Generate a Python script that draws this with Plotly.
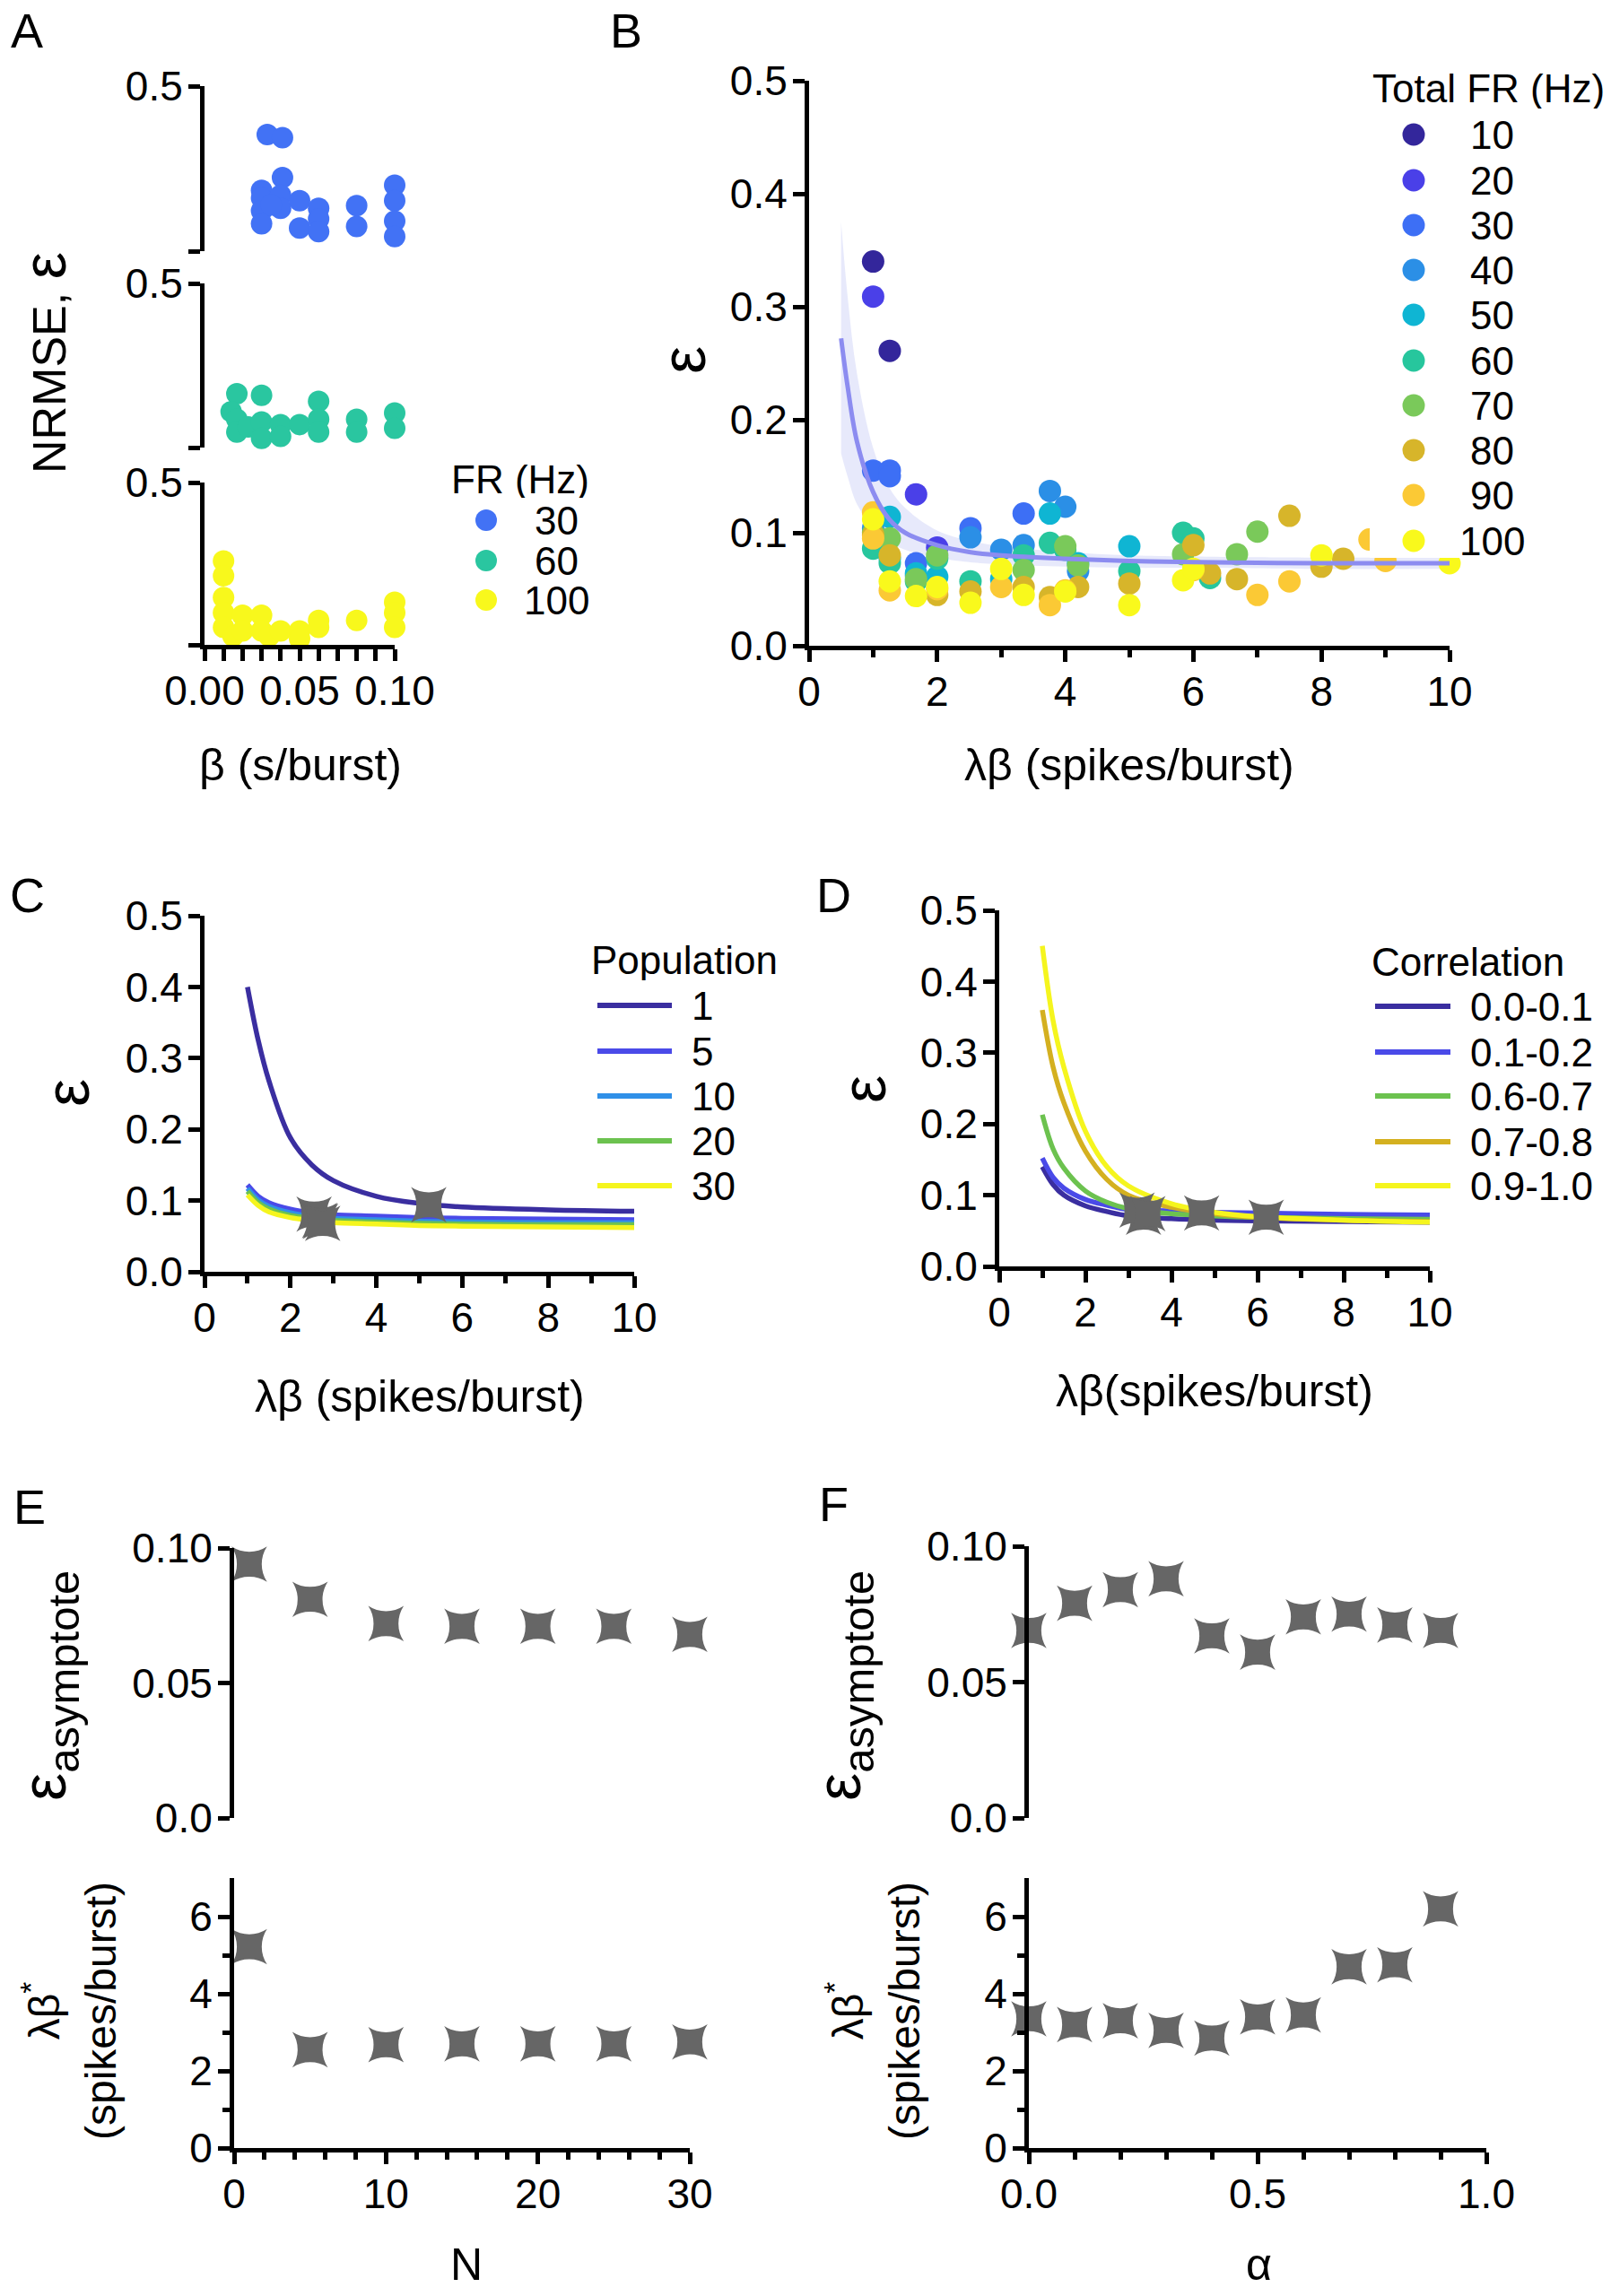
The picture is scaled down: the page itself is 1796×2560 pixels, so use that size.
import plotly.graph_objects as go

W, H = 1796, 2560
FONT = "Liberation Sans, Arial, Helvetica, sans-serif"


def fx(p):
    return p / W


def fy(p):
    return 1 - p / H


# ---------------- data ----------------
# Panel A: NRMSE vs beta, per firing rate
a30_x = [0.033, 0.041, 0.041, 0.030, 0.030, 0.030, 0.030, 0.040, 0.040, 0.035, 0.050, 0.050,
         0.060, 0.060, 0.060, 0.080, 0.080, 0.100, 0.100, 0.100, 0.100]
a30_y = [0.353, 0.344, 0.223, 0.184, 0.161, 0.122, 0.083, 0.169, 0.130, 0.140, 0.153, 0.070,
         0.130, 0.098, 0.059, 0.138, 0.075, 0.200, 0.153, 0.091, 0.044]
a60_x = [0.017, 0.014, 0.017, 0.017, 0.023, 0.030, 0.030, 0.030, 0.040, 0.040, 0.050,
         0.060, 0.060, 0.060, 0.080, 0.080, 0.100, 0.100]
a60_y = [0.164, 0.109, 0.086, 0.047, 0.063, 0.159, 0.078, 0.028, 0.070, 0.034, 0.070,
         0.141, 0.086, 0.047, 0.086, 0.047, 0.105, 0.059]
a100_x = [0.010, 0.010, 0.010, 0.010, 0.010, 0.015, 0.020, 0.020, 0.030, 0.030, 0.034,
          0.040, 0.050, 0.050, 0.060, 0.060, 0.080, 0.100, 0.100, 0.100]
a100_y = [0.258, 0.213, 0.146, 0.099, 0.054, 0.027, 0.091, 0.043, 0.091, 0.043, 0.027,
          0.043, 0.043, 0.019, 0.075, 0.054, 0.075, 0.131, 0.099, 0.054]
a_labels = ["30", "60", "100"]

# Panel B: epsilon vs lambda*beta, per total FR
b_labels = ["10", "20", "30", "40", "50", "60", "70", "80", "90", "100"]
b10_x = [1.0, 1.26]
b10_y = [0.340, 0.261]
b20_x = [1.0, 1.67, 2.0]
b20_y = [0.309, 0.134, 0.087]
b30_x = [1.0, 1.26, 1.26, 2.52, 3.35, 1.67]
b30_y = [0.155, 0.155, 0.150, 0.104, 0.117, 0.073]
b40_x = [3.76, 4.0, 2.52, 3.35, 3.0, 1.0, 4.2, 1.67]
b40_y = [0.137, 0.123, 0.096, 0.089, 0.085, 0.104, 0.066, 0.062]
b50_x = [3.76, 1.26, 5.0, 1.67, 2.0, 3.0, 1.26, 4.2]
b50_y = [0.117, 0.114, 0.088, 0.064, 0.061, 0.059, 0.077, 0.073]
b60_x = [3.76, 5.84, 6.0, 1.0, 1.26, 2.52, 5.0, 6.26, 3.35, 2.0, 1.67, 4.0]
b60_y = [0.091, 0.100, 0.095, 0.086, 0.073, 0.057, 0.066, 0.060, 0.080, 0.077, 0.057, 0.085]
b70_x = [4.0, 7.0, 6.68, 5.84, 3.35, 4.2, 1.26, 2.0, 1.67, 1.0]
b70_y = [0.088, 0.101, 0.081, 0.081, 0.067, 0.071, 0.095, 0.080, 0.059, 0.100]
b80_x = [7.5, 6.0, 8.34, 8.0, 5.0, 6.68, 6.26, 1.26, 1.0, 4.2, 3.35, 2.52, 2.0, 3.76]
b80_y = [0.115, 0.089, 0.077, 0.070, 0.055, 0.059, 0.064, 0.080, 0.098, 0.052, 0.052, 0.048, 0.045, 0.043]
b90_x = [1.0, 8.75, 3.0, 7.0, 7.5, 3.76, 1.26, 4.0, 9.0, 1.0, 6.0, 2.0]
b90_y = [0.118, 0.094, 0.052, 0.045, 0.057, 0.036, 0.049, 0.049, 0.075, 0.095, 0.067, 0.050]
b100_x = [1.0, 1.26, 1.67, 2.0, 2.52, 3.0, 3.35, 4.0, 5.0, 5.84, 8.0, 10.0, 6.0]
b100_y = [0.112, 0.057, 0.044, 0.052, 0.038, 0.068, 0.045, 0.048, 0.036, 0.058, 0.080, 0.073, 0.068]

fit_x = [0.5, 0.6, 0.75, 1.0, 1.25, 1.5, 2.0, 2.5, 3.0, 4.0, 5.0, 6.0, 8.0, 10.0]
fit_y = [0.272, 0.230, 0.180, 0.136, 0.112, 0.100, 0.089, 0.083, 0.080, 0.077, 0.075, 0.074, 0.073, 0.073]
fit_hi = [0.375, 0.310, 0.240, 0.175, 0.140, 0.122, 0.102, 0.093, 0.088, 0.083, 0.080, 0.079, 0.078, 0.078]
fit_lo = [0.170, 0.150, 0.125, 0.105, 0.092, 0.085, 0.078, 0.074, 0.072, 0.070, 0.069, 0.069, 0.068, 0.068]

# Panel C: fitted curves per population size
curve_x = [1.0, 1.25, 1.5, 2.0, 2.5, 3.0, 4.0, 5.0, 6.0, 8.0, 10.0]
c_labels = ["1", "5", "10", "20", "30"]
c_n1 = [0.400, 0.325, 0.268, 0.188, 0.150, 0.128, 0.106, 0.096, 0.091, 0.087, 0.085]
c_n5 = [0.122, 0.106, 0.097, 0.088, 0.083, 0.080, 0.078, 0.076, 0.075, 0.074, 0.073]
c_n10 = [0.117, 0.101, 0.092, 0.083, 0.078, 0.075, 0.073, 0.071, 0.070, 0.069, 0.069]
c_n20 = [0.113, 0.097, 0.088, 0.079, 0.075, 0.072, 0.070, 0.068, 0.067, 0.066, 0.066]
c_n30 = [0.108, 0.093, 0.084, 0.076, 0.072, 0.069, 0.067, 0.065, 0.064, 0.063, 0.062]
c_star_x = [5.22, 2.55, 2.68, 2.70, 2.75]
c_star_y = [0.094, 0.081, 0.072, 0.071, 0.068]

# Panel D: fitted curves per correlation bin
d_labels = ["0.0-0.1", "0.1-0.2", "0.6-0.7", "0.7-0.8", "0.9-1.0"]
d_a0 = [0.140, 0.115, 0.100, 0.085, 0.077, 0.071, 0.067, 0.065, 0.064, 0.063, 0.062]
d_a1 = [0.152, 0.125, 0.110, 0.094, 0.086, 0.080, 0.078, 0.076, 0.075, 0.073, 0.072]
d_a6 = [0.213, 0.165, 0.138, 0.106, 0.090, 0.081, 0.074, 0.071, 0.069, 0.067, 0.066]
d_a7 = [0.360, 0.280, 0.230, 0.162, 0.122, 0.100, 0.083, 0.074, 0.069, 0.065, 0.063]
d_a9 = [0.450, 0.345, 0.280, 0.190, 0.140, 0.113, 0.088, 0.076, 0.070, 0.065, 0.062]
d_star_x = [3.35, 3.20, 3.45, 4.70, 6.20]
d_star_y = [0.069, 0.079, 0.074, 0.075, 0.069]

# Panel E: vs population N
e_n = [1, 5, 10, 15, 20, 25, 30]
e_asym = [0.094, 0.081, 0.072, 0.071, 0.071, 0.071, 0.068]
e_lb = [5.22, 2.55, 2.68, 2.70, 2.70, 2.70, 2.75]

# Panel F: vs correlation alpha
f_alpha = [0.0, 0.1, 0.2, 0.3, 0.4, 0.5, 0.6, 0.7, 0.8, 0.9]
f_asym = [0.069, 0.079, 0.084, 0.088, 0.067, 0.061, 0.074, 0.075, 0.071, 0.069]
f_lb = [3.35, 3.20, 3.30, 3.05, 2.85, 3.40, 3.45, 4.70, 4.75, 6.20]

# ---------------- styles ----------------
A_COLORS = ["#4272f5", "#2ac6a0", "#f8f81c"]
B_COLORS = ["#33269b", "#4a40e8", "#3d6ff5", "#2b8fe6", "#0fb5d3",
            "#27c69d", "#7ac95a", "#d7b52a", "#fbc935", "#f9f91c"]
C_COLORS = ["#3a2ea0", "#4a4ae8", "#3090e8", "#6cc24f", "#f5f51e"]
D_COLORS = ["#3a2ea0", "#4a4ae8", "#6cc24f", "#d4b020", "#f5f51e"]
STAR = "#666666"
TICK_FS = 46
TITLE_FS = 50
LEG_FS = 44
EPS_FS = 70

fig = go.Figure()

# Panel A
for xs, ys, col, ya in [(a30_x, a30_y, A_COLORS[0], "y3"),
                        (a60_x, a60_y, A_COLORS[1], "y2"),
                        (a100_x, a100_y, A_COLORS[2], "y")]:
    fig.add_trace(go.Scatter(x=xs, y=ys, mode="markers", xaxis="x", yaxis=ya,
                             marker=dict(size=24, color=col, line=dict(width=0)),
                             cliponaxis=False, showlegend=False))

# Panel B
fig.add_trace(go.Scatter(x=fit_x, y=fit_lo, mode="lines", xaxis="x2", yaxis="y4",
                         line=dict(width=0, color="rgba(0,0,0,0)", shape="spline"),
                         showlegend=False, hoverinfo="skip"))
fig.add_trace(go.Scatter(x=fit_x, y=fit_hi, mode="lines", xaxis="x2", yaxis="y4",
                         fill="tonexty", fillcolor="rgba(170,175,240,0.28)",
                         line=dict(width=0, color="rgba(0,0,0,0)", shape="spline"),
                         showlegend=False, hoverinfo="skip"))
b_series = [(b10_x, b10_y), (b20_x, b20_y), (b30_x, b30_y), (b40_x, b40_y), (b50_x, b50_y),
            (b60_x, b60_y), (b70_x, b70_y), (b80_x, b80_y), (b90_x, b90_y), (b100_x, b100_y)]
for (xs, ys), col, lab in zip(b_series, B_COLORS, b_labels):
    fig.add_trace(go.Scatter(x=xs, y=ys, mode="markers", xaxis="x2", yaxis="y4", name=lab,
                             marker=dict(size=25, color=col, line=dict(width=0)),
                             cliponaxis=False, showlegend=False))
fig.add_trace(go.Scatter(x=fit_x, y=fit_y, mode="lines", xaxis="x2", yaxis="y4",
                         line=dict(width=5, color="#8c8cf0", shape="spline"),
                         showlegend=False))

# Panel C
for ys, col, lab in zip([c_n1, c_n5, c_n10, c_n20, c_n30], C_COLORS, c_labels):
    fig.add_trace(go.Scatter(x=curve_x, y=ys, mode="lines", xaxis="x3", yaxis="y5", name=lab,
                             line=dict(width=5.5, color=col, shape="spline"), showlegend=False))
fig.add_trace(go.Scatter(x=c_star_x, y=c_star_y, mode="markers", xaxis="x3", yaxis="y5",
                         marker=dict(symbol="star-square", size=36, color=STAR, line=dict(width=0)),
                         cliponaxis=False, showlegend=False))

# Panel D
for ys, col, lab in zip([d_a0, d_a1, d_a6, d_a7, d_a9], D_COLORS, d_labels):
    fig.add_trace(go.Scatter(x=curve_x, y=ys, mode="lines", xaxis="x4", yaxis="y6", name=lab,
                             line=dict(width=5.5, color=col, shape="spline"), showlegend=False))
fig.add_trace(go.Scatter(x=d_star_x, y=d_star_y, mode="markers", xaxis="x4", yaxis="y6",
                         marker=dict(symbol="star-square", size=36, color=STAR, line=dict(width=0)),
                         cliponaxis=False, showlegend=False))

# Panels E & F
for xs, ys, xa, ya in [(e_n, e_asym, "x5", "y7"), (e_n, e_lb, "x6", "y8"),
                       (f_alpha, f_asym, "x7", "y9"), (f_alpha, f_lb, "x8", "y10")]:
    fig.add_trace(go.Scatter(x=xs, y=ys, mode="markers", xaxis=xa, yaxis=ya,
                             marker=dict(symbol="star-square", size=36, color=STAR, line=dict(width=0)),
                             cliponaxis=False, showlegend=False))


# ---------------- axes ----------------
def ax(dom, **kw):
    d = dict(domain=dom, showline=True, linecolor="black", linewidth=5,
             ticks="outside", ticklen=13, tickwidth=4.5, tickcolor="black",
             showgrid=False, zeroline=False, automargin=False,
             tickfont=dict(family=FONT, size=TICK_FS, color="black"))
    d.update(kw)
    return d


def minor(vals, ln=8):
    return dict(tickvals=vals, ticks="outside", ticklen=ln, tickwidth=4.5, tickcolor="black",
                showgrid=False)


XS = -6   # x tick-label standoff
YS = -3   # y tick-label standoff

A_XD = [fx(228), fx(440)]
E_XD = [fx(261), fx(769)]
F_XD = [fx(1147), fx(1657)]

fig.update_layout(
    width=W, height=H, margin=dict(l=0, r=0, t=0, b=0, pad=0),
    paper_bgcolor="white", plot_bgcolor="white", showlegend=False,
    font=dict(family=FONT, color="black"),
    # A
    xaxis=ax(A_XD, anchor="y", range=[0, 0.1], tickvals=[0, 0.05, 0.1],
             ticktext=["0.00", "0.05", "0.10"], ticklabelstandoff=XS,
             minor=minor([0.01, 0.02, 0.03, 0.04, 0.06, 0.07, 0.08, 0.09], 13)),
    yaxis=ax([fy(719), fy(538)], anchor="x", range=[0, 0.5], tickvals=[0.5],
             ticktext=["0.5"], ticklabelstandoff=YS, minor=minor([0], 13)),
    yaxis2=ax([fy(499), fy(316)], anchor="x", range=[0, 0.5], tickvals=[0.5],
              ticktext=["0.5"], ticklabelstandoff=YS, minor=minor([0], 13)),
    yaxis3=ax([fy(280), fy(96)], anchor="x", range=[0, 0.5], tickvals=[0.5],
              ticktext=["0.5"], ticklabelstandoff=YS, minor=minor([0], 13)),
    # B
    xaxis2=ax([fx(902), fx(1616)], anchor="y4", range=[0, 10], tickvals=[0, 2, 4, 6, 8, 10],
              ticklabelstandoff=XS, minor=minor([1, 3, 5, 7, 9])),
    yaxis4=ax([fy(720), fy(90)], anchor="x2", range=[0, 0.5],
              tickvals=[0, 0.1, 0.2, 0.3, 0.4, 0.5], tickformat=".1f", ticklabelstandoff=YS),
    # C
    xaxis3=ax([fx(228), fx(707)], anchor="y5", range=[0, 10], tickvals=[0, 2, 4, 6, 8, 10],
              ticklabelstandoff=XS, minor=minor([1, 3, 5, 7, 9])),
    yaxis5=ax([fy(1418), fy(1021)], anchor="x3", range=[0, 0.5],
              tickvals=[0, 0.1, 0.2, 0.3, 0.4, 0.5], tickformat=".1f", ticklabelstandoff=YS),
    # D
    xaxis4=ax([fx(1114), fx(1594)], anchor="y6", range=[0, 10], tickvals=[0, 2, 4, 6, 8, 10],
              ticklabelstandoff=XS, minor=minor([1, 3, 5, 7, 9])),
    yaxis6=ax([fy(1412), fy(1015)], anchor="x4", range=[0, 0.5],
              tickvals=[0, 0.1, 0.2, 0.3, 0.4, 0.5], tickformat=".1f", ticklabelstandoff=YS),
    # E
    xaxis5=dict(domain=E_XD, anchor="y7", range=[0, 30], visible=False, automargin=False),
    yaxis7=ax([fy(2027), fy(1726)], anchor="x5", range=[0, 0.1], tickvals=[0, 0.05, 0.1],
              ticktext=["0.0", "0.05", "0.10"], ticklabelstandoff=YS),
    xaxis6=ax(E_XD, anchor="y8", range=[0, 30], tickvals=[0, 10, 20, 30], ticklabelstandoff=XS,
              minor=minor([2, 4, 6, 8, 12, 14, 16, 18, 22, 24, 26, 28])),
    yaxis8=ax([fy(2395), fy(2094)], anchor="x6", range=[0, 7], tickvals=[0, 2, 4, 6],
              ticklabelstandoff=YS, minor=minor([1, 3, 5])),
    # F
    xaxis7=dict(domain=F_XD, anchor="y9", range=[0, 1], visible=False, automargin=False),
    yaxis9=ax([fy(2027), fy(1724)], anchor="x7", range=[0, 0.1], tickvals=[0, 0.05, 0.1],
              ticktext=["0.0", "0.05", "0.10"], ticklabelstandoff=YS),
    xaxis8=ax(F_XD, anchor="y10", range=[0, 1], tickvals=[0, 0.5, 1],
              ticktext=["0.0", "0.5", "1.0"], ticklabelstandoff=XS,
              minor=minor([0.1, 0.2, 0.3, 0.4, 0.6, 0.7, 0.8, 0.9])),
    yaxis10=ax([fy(2395), fy(2094)], anchor="x8", range=[0, 7], tickvals=[0, 2, 4, 6],
               ticklabelstandoff=YS, minor=minor([1, 3, 5])),
)

# ---------------- text ----------------
ann = []


def text(x, y, s, size=TITLE_FS, angle=0, xanchor="center", yanchor="middle", height=None):
    d = dict(x=fx(x), y=fy(y), xref="paper", yref="paper", text=s, showarrow=False,
             textangle=angle, xanchor=xanchor, yanchor=yanchor,
             font=dict(family=FONT, size=size, color="black"))
    if height:
        d["height"] = height
    ann.append(d)


# panel letters
for lab, x, y in [("A", 30, 34), ("B", 698, 34), ("C", 30, 998), ("D", 929, 998),
                  ("E", 33, 1680), ("F", 929, 1677)]:
    text(x, y, lab, size=54)

# axis titles
text(49, 405, "NRMSE, <span style='font-size:68px'>ε</span>", size=52, angle=-90)
text(335, 853, "β (s/burst)")
text(762, 402, "ε", size=EPS_FS, angle=-90)
text(1259, 853, "λβ (spikes/burst)")
text(75, 1219, "ε", size=EPS_FS, angle=-90)
text(468, 1557, "λβ (spikes/burst)")
text(963, 1215, "ε", size=EPS_FS, angle=-90)
text(1354, 1551, "λβ(spikes/burst)")
text(54, 1880, "ε<sub>asymptote</sub>", size=EPS_FS, angle=-90)
text(77, 2242, "λβ<sup>*</sup><br>(spikes/burst)", size=48, angle=-90)
text(520, 2525, "N")
text(940, 1880, "ε<sub>asymptote</sub>", size=EPS_FS, angle=-90)
text(973, 2242, "λβ<sup>*</sup><br>(spikes/burst)", size=48, angle=-90)
text(1403, 2525, "α")

shapes = []


def circle(cx, cy, r, col):
    shapes.append(dict(type="circle", xref="paper", yref="paper", x0=fx(cx - r), x1=fx(cx + r),
                       y0=fy(cy + r), y1=fy(cy - r), fillcolor=col, line=dict(width=0), layer="above"))


def seg(x0, x1, y, col, w=6):
    shapes.append(dict(type="line", xref="paper", yref="paper", x0=fx(x0), x1=fx(x1),
                       y0=fy(y), y1=fy(y), line=dict(color=col, width=w), layer="above"))


# legend A
text(580, 534, "FR (Hz)", size=LEG_FS, height=42)
for lab, col, y in zip(a_labels, A_COLORS, [580, 625, 669]):
    circle(542, y, 12, col)
    text(620, y, lab, size=LEG_FS, height=42)

# legend B (white box over plot area)
shapes.append(dict(type="rect", xref="paper", yref="paper", x0=fx(1527), x1=fx(1796),
                   y0=fy(622), y1=fy(60), fillcolor="white", line=dict(width=0), layer="above"))
text(1659, 98, "Total FR (Hz)", size=LEG_FS, height=46)
for lab, col, y in zip(b_labels, B_COLORS, [150, 201, 251, 301, 351, 402, 452, 502, 552, 603]):
    circle(1576, y, 12.5, col)
    text(1663, y, lab, size=LEG_FS, height=46)

# legend C
text(763, 1070, "Population", size=LEG_FS, height=46)
for lab, col, y in zip(c_labels, C_COLORS, [1121, 1172, 1222, 1272, 1322]):
    seg(666, 749, y, col)
    text(769, y, lab, size=LEG_FS, xanchor="left", height=46)

# legend D
text(1636, 1072, "Correlation", size=LEG_FS, height=46)
for lab, col, y in zip(d_labels, D_COLORS, [1122, 1173, 1222, 1273, 1322]):
    seg(1533, 1617, y, col)
    text(1637, y, lab, size=LEG_FS, xanchor="left", height=46)

fig.update_layout(annotations=ann, shapes=shapes)
fig.write_html("out.html")
